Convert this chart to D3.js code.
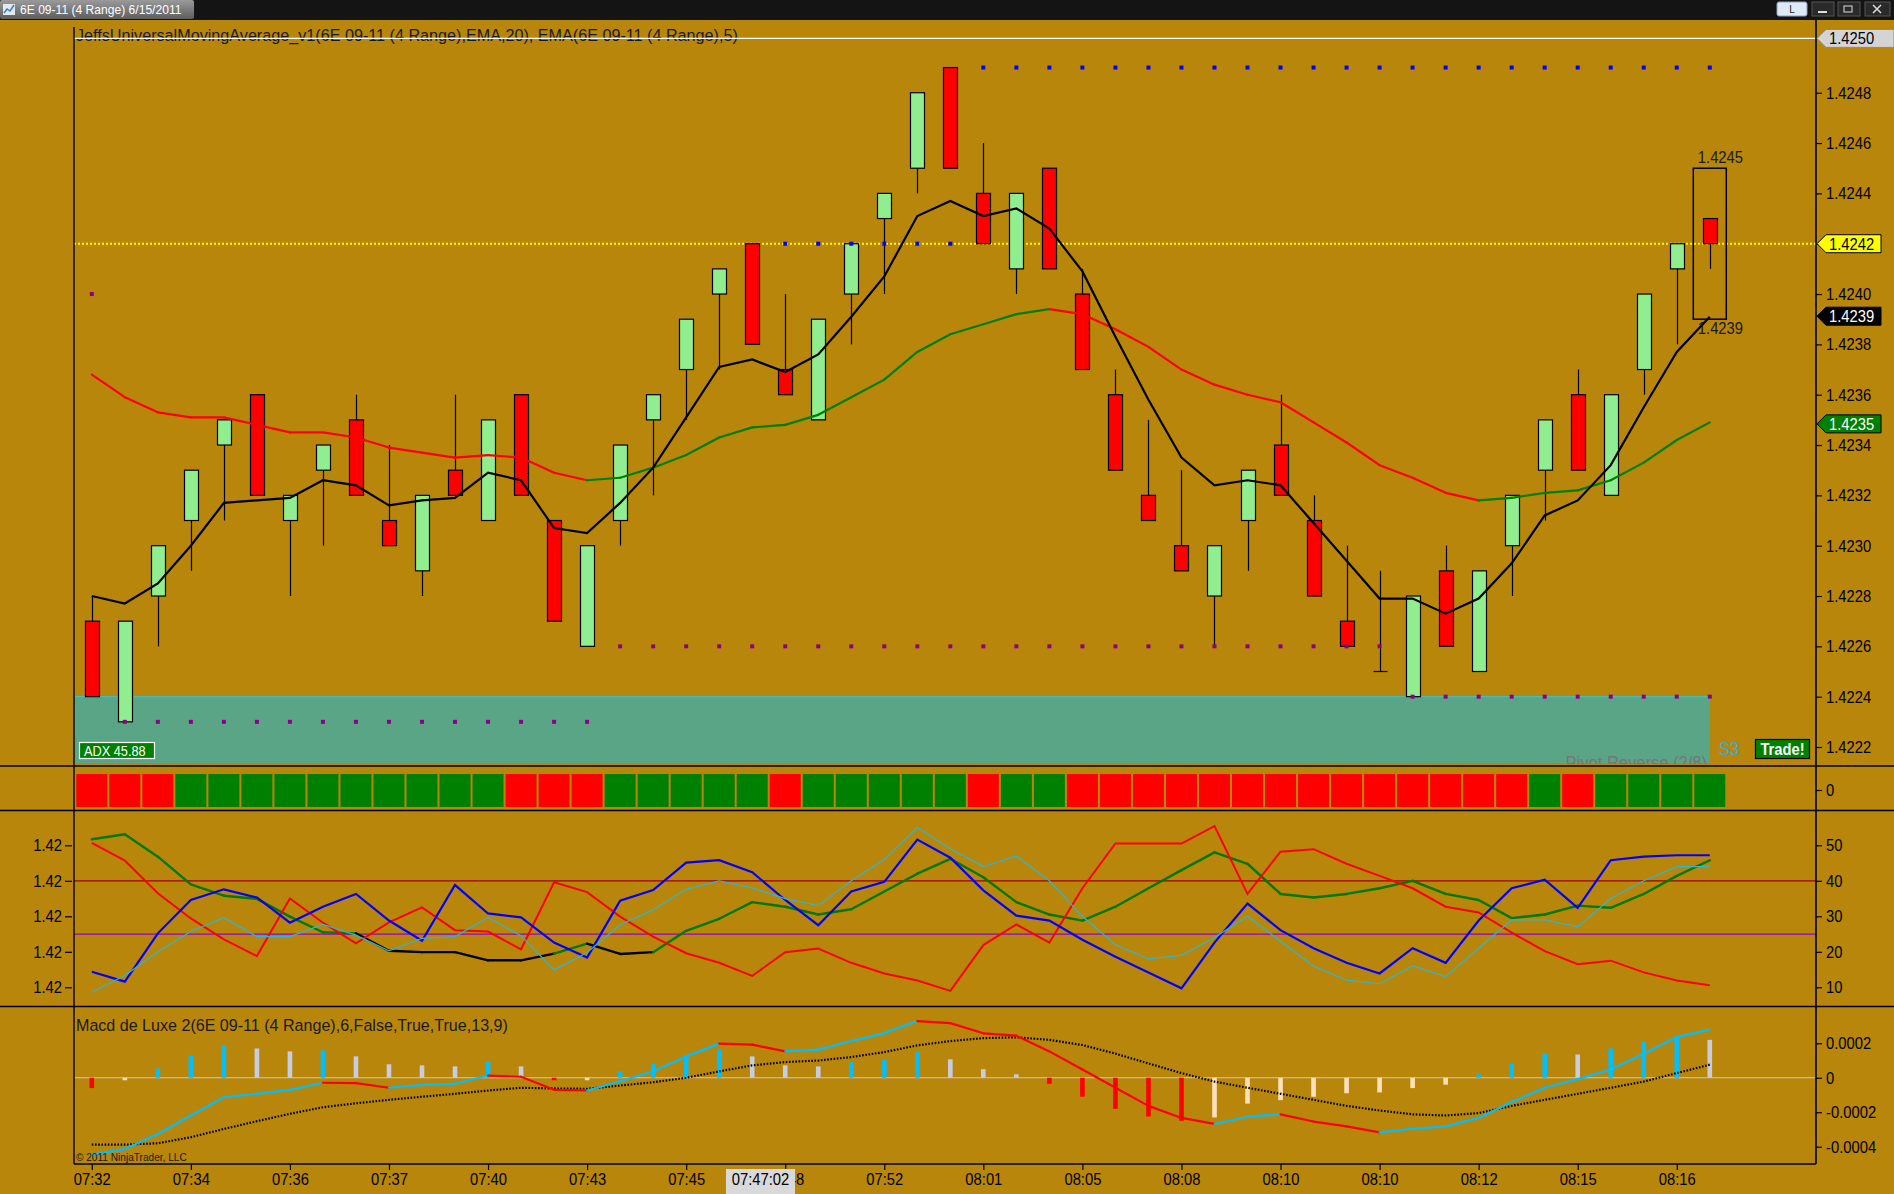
<!DOCTYPE html>
<html><head><meta charset="utf-8">
<script src="https://cdn.jsdelivr.net/npm/d3@7"></script>
<style>html,body{margin:0;padding:0;background:#B8860B;overflow:hidden}svg{display:block}text{font-family:"Liberation Sans",Arial,sans-serif}</style>
</head><body><svg id="c" width="1894" height="1194"></svg>
<script>
// ---------------- DATA ----------------
const timeLabels = ["07:32","07:34","07:36","07:37","07:40","07:43","07:45","07:48","07:52","08:01","08:05","08:08","08:10","08:10","08:12","08:15","08:16"];
const openP  = [1.4227,1.4223,1.4228,1.4231,1.4234,1.4236,1.4231,1.4233,1.4235,1.4231,1.4229,1.4233,1.4231,1.4236,1.4231,1.4226,1.4231,1.4235,1.4237,1.4240,1.4242,1.4237,1.4235,1.4240,1.4243,1.4245,1.4249,1.4244,1.4241,1.4245,1.4240,1.4236,1.4232,1.4230,1.4228,1.4231,1.4234,1.4231,1.4227,1.4225,1.4224,1.4229,1.4225,1.4230,1.4233,1.4236,1.4232,1.4237,1.4241,1.4243];
const highP  = [1.4228,1.4227,1.4230,1.4233,1.4235,1.4236,1.4232,1.4234,1.4236,1.4234,1.4232,1.4236,1.4235,1.4236,1.4231,1.4230,1.4234,1.4236,1.4239,1.4241,1.4242,1.4240,1.4239,1.4242,1.4244,1.4248,1.4249,1.4246,1.4244,1.4245,1.4241,1.4237,1.4235,1.4233,1.4230,1.4233,1.4236,1.4232,1.4230,1.4229,1.4228,1.4230,1.4229,1.4232,1.4235,1.4237,1.4236,1.4240,1.4242,1.4243];
const lowP   = [1.4224,1.4223,1.4226,1.4229,1.4231,1.4232,1.4228,1.4230,1.4232,1.4230,1.4228,1.4232,1.4231,1.4232,1.4227,1.4226,1.4230,1.4232,1.4235,1.4237,1.4238,1.4236,1.4235,1.4238,1.4240,1.4244,1.4245,1.4242,1.4240,1.4241,1.4237,1.4233,1.4231,1.4229,1.4226,1.4229,1.4232,1.4228,1.4226,1.4225,1.4224,1.4226,1.4225,1.4228,1.4231,1.4233,1.4232,1.4236,1.4238,1.4241];
const closeP = [1.4224,1.4227,1.4230,1.4233,1.4235,1.4232,1.4232,1.4234,1.4232,1.4230,1.4232,1.4232,1.4235,1.4232,1.4227,1.4230,1.4234,1.4236,1.4239,1.4241,1.4238,1.4236,1.4239,1.4242,1.4244,1.4248,1.4245,1.4242,1.4244,1.4241,1.4237,1.4233,1.4231,1.4229,1.4230,1.4233,1.4232,1.4228,1.4226,1.4225,1.4228,1.4226,1.4229,1.4232,1.4235,1.4233,1.4236,1.4240,1.4242,1.4242];
const ema5  = [1.42280,1.42277,1.42285,1.42300,1.42317,1.42318,1.42319,1.42326,1.42324,1.42316,1.42318,1.42319,1.42329,1.42326,1.42307,1.42305,1.42317,1.42331,1.42351,1.42371,1.42374,1.42369,1.42376,1.42391,1.42407,1.42431,1.42437,1.42431,1.42434,1.42426,1.42409,1.42383,1.42358,1.42335,1.42324,1.42326,1.42324,1.42309,1.42294,1.42279,1.42279,1.42273,1.42279,1.42293,1.42312,1.42318,1.42332,1.42355,1.42377,1.42391];
const ema20 = [1.42368,1.42359,1.42353,1.42351,1.42351,1.42348,1.42345,1.42345,1.42343,1.42339,1.42337,1.42335,1.42336,1.42335,1.42329,1.42326,1.42327,1.42331,1.42336,1.42343,1.42347,1.42348,1.42352,1.42359,1.42366,1.42377,1.42384,1.42388,1.42392,1.42394,1.42392,1.42386,1.42379,1.42370,1.42364,1.42360,1.42357,1.42349,1.42341,1.42332,1.42327,1.42321,1.42318,1.42319,1.42321,1.42322,1.42326,1.42333,1.42342,1.42349];
// 1 = up-trend (green) segment, 0 = down-trend (red) segment
const ema20Up = [0,0,0,0,0,0,0,0,0,0,0,0,0,0,0,1,1,1,1,1,1,1,1,1,1,1,1,1,1,0,0,0,0,0,0,0,0,0,0,0,0,0,1,1,1,1,1,1,1];
// support / resistance dot levels: [fromBar, toBar, price]
const purpleLevels = [[0,0,1.4240],[1,15,1.4223],[16,39,1.4226],[40,49,1.4224]];
const blueLevels   = [[21,26,1.4242],[27,49,1.4249]];
const pivotZone = 1.4224;
const yellowLine = 1.4242;
const topLine = 1.4250;
const rangeBox = [1.4245, 1.4239];
const priceTicks = [1.4222,1.4224,1.4226,1.4228,1.4230,1.4232,1.4234,1.4236,1.4238,1.4240,1.4242,1.4244,1.4246,1.4248];
const markerValues = [1.4250, 1.4242, 1.4239, 1.4235];
const markerLabels = ["1.4250","1.4242","1.4239","1.4235"];
// trend color strip (1 green, 0 red)
const stripUp = [0,0,0,1,1,1,1,1,1,1,1,1,1,0,0,0,1,1,1,1,1,0,1,1,1,1,1,0,1,1,0,0,0,0,0,0,0,0,0,0,0,0,0,0,1,0,1,1,1,1];
// oscillator panel
const adxLine = [51.7,53.1,46.8,39.0,35.8,34.9,29.9,25.5,25.2,20.3,19.9,19.9,17.6,17.6,19.5,22.3,19.4,19.9,25.9,29.3,34,32.7,30.5,32,37,42,46.2,41,34,30.5,28.8,32.7,37.9,43,48,44.8,36.3,35.3,36.3,37.9,40,36.3,34.6,29.5,30.5,33,32.4,36.3,41.4,45.8];
const adxStrong = [1,1,1,1,1,1,1,1,0,0,0,0,0,0,1,0,0,1,1,1,1,1,1,1,1,1,1,1,1,1,1,1,1,1,1,1,1,1,1,1,1,1,1,1,1,1,1,1,1];
const redLine  = [50.7,45.7,36.5,29.4,23.5,18.8,35.0,28.2,22.4,28.3,32.5,26.1,25.7,20.7,39.6,36.8,29.9,24.3,19.6,16.9,13.2,19.9,20.9,16.9,13.9,11.9,9.0,21.9,27.7,22.6,37.9,50.5,50.5,50.5,55.4,36.3,48.2,48.9,44.8,41.4,37.9,32.7,31.1,25.4,20.2,16.5,17.5,14.2,11.9,10.6];
const blueLine = [14.4,11.6,25.2,34.6,37.6,35.3,28.2,32.7,36.3,28.8,23.1,38.8,30.8,29.7,22.6,18.4,34.4,37.4,45.1,45.8,42.4,34.6,27.5,37,39.7,51.6,46.5,37.3,30.2,28.8,23.4,18.6,14.2,9.7,22.6,33.6,26.1,21,16.9,13.9,21,16.9,28.8,37.9,40.3,32.4,45.8,46.8,47.2,47.2];
const cyanLine = [8.6,13.3,20.0,25.7,29.6,24.3,24.3,27.7,24.7,20.3,23.8,24.3,29.7,24.5,14.9,19.8,27.6,31.8,37.6,40,38,35,33,40,46,55,49,44,47,40,30,22,18,19,24,30,23,16,12,11,16,13,21,29,29,27,35,40,44,44];
const oscLevels = [40, 25];
const oscTicks = [10,20,30,40,50];
// MACD panel (values in price units)
const macdLine = [-4.46,-4.13,-3.26,-2.19,-1.13,-0.93,-0.70,-0.29,-0.31,-0.58,-0.41,-0.35,0.13,0.06,-0.70,-0.74,-0.20,0.38,1.24,1.98,1.92,1.53,1.63,2.13,2.59,3.29,3.17,2.58,2.44,1.53,0.48,-0.58,-1.63,-2.33,-2.68,-2.26,-2.12,-2.54,-2.82,-3.17,-2.96,-2.82,-2.33,-1.41,-0.58,-0.08,0.48,1.39,2.37,2.79].map(v=>v*1e-4);
const signalLine = [-3.88,-3.88,-3.8,-3.45,-2.97,-2.52,-2.09,-1.71,-1.48,-1.28,-1.10,-0.93,-0.74,-0.58,-0.62,-0.64,-0.45,-0.26,0,0.37,0.72,0.91,1.0,1.2,1.49,1.88,2.13,2.3,2.35,2.2,1.9,1.4,0.83,0.27,-0.22,-0.58,-0.93,-1.28,-1.63,-1.9,-2.12,-2.19,-2.05,-1.63,-1.28,-0.93,-0.58,-0.22,0.27,0.76].map(v=>v*1e-4);
const histValues = [-0.6,-0.05,0.54,1.3,1.88,1.7,1.53,1.59,1.24,0.78,0.72,0.66,0.95,0.66,-0.1,-0.05,0.37,0.81,1.26,1.63,1.24,0.72,0.66,0.91,1.05,1.5,1.07,0.5,0.2,-0.35,-1.1,-1.8,-2.25,-2.5,-2.3,-1.5,-1.3,-1.1,-0.9,-0.85,-0.6,-0.4,0.2,0.8,1.4,1.35,1.7,2.1,2.35,2.2].map(v=>v*1e-4);
const macdTicks = [0.0002, 0, -0.0002, -0.0004];
const macdTickLabels = ["0.0002","0","-0.0002","-0.0004"];

// ---------------- LAYOUT ----------------
const W=1894, H=1194, L=74, R=1816;
const PT=27, PB=764, OT=810, OB=1006, MT=1006, MB=1164;
const n = closeP.length;
const svg = d3.select("#c");
const x  = d3.scaleLinear().domain([0, n-1]).range([91.8, 1709.8]);
const yP = d3.scaleLinear().domain([1.4222, 1.4250]).range([747.0, 42.4]);
const yO = d3.scaleLinear().domain([0, 60]).range([1022.8, 809.8]);
const yM = d3.scaleLinear().domain([-0.0004, 0.0002]).range([1146.7, 1043.3]);

const defs = svg.append("defs");
defs.append("clipPath").attr("id","cp").append("rect").attr("x",L).attr("y",PT).attr("width",R-L).attr("height",PB-PT);
defs.append("clipPath").attr("id","co").append("rect").attr("x",L).attr("y",OT+1).attr("width",R-L).attr("height",OB-OT-1);
defs.append("clipPath").attr("id","cm").append("rect").attr("x",L).attr("y",MT+1).attr("width",R-L).attr("height",MB-MT-1);
const tg = defs.append("linearGradient").attr("id","tab").attr("x1",0).attr("y1",0).attr("x2",0).attr("y2",1);
tg.append("stop").attr("offset","0").attr("stop-color","#9a9a9a");
tg.append("stop").attr("offset","1").attr("stop-color","#5e5e5e");

function txt(g, xx, yy, s, o={}) {
  const sx = o.sx ?? 0.87;
  const t = g.append("text").attr("transform",`translate(${xx},${yy}) scale(${sx},1)`)
    .attr("font-size", o.size||17).attr("fill", o.fill||"#000").attr("text-anchor", o.anchor||"start").text(s);
  if (o.weight) t.attr("font-weight", o.weight);
  return t;
}

svg.append("rect").attr("width",W).attr("height",H).attr("fill","#B8860B");

// ---- window title bar ----
svg.append("rect").attr("x",0).attr("y",0).attr("width",W).attr("height",20).attr("fill","#141414");
svg.append("rect").attr("x",0).attr("y",0).attr("width",194).attr("height",19).attr("fill","url(#tab)").attr("rx",2);
svg.append("rect").attr("x",3).attr("y",4).attr("width",12).attr("height",11).attr("fill","#e8e8e8");
svg.append("path").attr("d","M4,13 L7,9 L10,11 L14,5").attr("stroke","#2a7fd4").attr("stroke-width",1.5).attr("fill","none");
txt(svg, 20, 14, "6E 09-11 (4 Range)  6/15/2011", {size:13, fill:"#ffffff", sx:0.93});
// window buttons
svg.append("rect").attr("x",1777).attr("y",2).attr("width",30).attr("height",14).attr("rx",2).attr("fill","#dfe8f5").attr("stroke","#8aa0c0");
txt(svg, 1792, 13, "L", {size:10, anchor:"middle", sx:1, fill:"#222"});
svg.append("rect").attr("x",1812).attr("y",2).attr("width",22).attr("height",14).attr("fill","#2a2a2a").attr("stroke","#555");
svg.append("rect").attr("x",1818).attr("y",11).attr("width",9).attr("height",2).attr("fill","#ddd");
svg.append("rect").attr("x",1838).attr("y",2).attr("width",22).attr("height",14).attr("fill","#2a2a2a").attr("stroke","#555");
svg.append("rect").attr("x",1844).attr("y",6).attr("width",8).attr("height",6).attr("fill","none").attr("stroke","#ddd");
svg.append("rect").attr("x",1865).attr("y",2).attr("width",25).attr("height",14).attr("fill","#2a2a2a").attr("stroke","#555");
svg.append("path").attr("d","M1873,5 L1881,13 M1881,5 L1873,13").attr("stroke","#ddd").attr("stroke-width",1.5);

// ---------------- PRICE PANEL ----------------
const gp = svg.append("g").attr("clip-path","url(#cp)");
gp.append("rect").attr("x",L).attr("y",yP(pivotZone)).attr("width",x(n-1)-L).attr("height",763-yP(pivotZone)).attr("fill","#5BA587");
gp.append("line").attr("x1",L).attr("x2",x(n-1)).attr("y1",yP(pivotZone)).attr("y2",yP(pivotZone)).attr("stroke","#3cc6cf").attr("stroke-width",1);
txt(gp, 1707, 769, "Pivot  Reverse (2/8)", {size:19, anchor:"end", fill:"#767676"});
gp.append("line").attr("x1",L).attr("x2",R).attr("y1",yP(yellowLine)).attr("y2",yP(yellowLine)).attr("stroke","#ffff00").attr("stroke-width",2).attr("stroke-dasharray","2,2");
// title
txt(svg, 76, 41, "JeffsUniversalMovingAverage_v1(6E 09-11 (4 Range),EMA,20), EMA(6E 09-11 (4 Range),5)", {size:16.5, fill:"#1a1a1a", sx:0.98});
svg.append("line").attr("x1",L).attr("x2",R).attr("y1",yP(topLine)-4).attr("y2",yP(topLine)-4).attr("stroke","#ffffff").attr("stroke-width",1.2);

// candles
const cg = gp.append("g");
d3.range(n).forEach(i=>{
  const cx = Math.round(x(i))+0.5;
  cg.append("line").attr("x1",cx).attr("x2",cx).attr("y1",yP(highP[i])).attr("y2",yP(lowP[i])).attr("stroke","#000").attr("stroke-width",1.2);
  const o=openP[i], c=closeP[i];
  if (Math.abs(o-c) < 1e-9) {
    cg.append("line").attr("x1",cx-7).attr("x2",cx+7).attr("y1",yP(o)).attr("y2",yP(o)).attr("stroke","#000").attr("stroke-width",1.2);
  } else {
    const top=yP(Math.max(o,c)), bot=yP(Math.min(o,c));
    cg.append("rect").attr("x",cx-7).attr("y",top).attr("width",14).attr("height",bot-top)
      .attr("fill", c>o ? "#90EE90" : "#FF0000").attr("stroke","#000").attr("stroke-width",1.2);
  }
});
// EMA20 two-colour
d3.range(n-1).forEach(i=>{
  gp.append("line").attr("x1",x(i)).attr("x2",x(i+1)).attr("y1",yP(ema20[i])).attr("y2",yP(ema20[i+1]))
    .attr("stroke", ema20Up[i] ? "#008000" : "#FF0000").attr("stroke-width",2.2).attr("stroke-linecap","round");
});
// EMA5
gp.append("path").datum(ema5).attr("d", d3.line().x((d,i)=>x(i)).y(d=>yP(d))).attr("fill","none").attr("stroke","#000").attr("stroke-width",2.2);
// dots
purpleLevels.forEach(([a,b,v])=>{ d3.range(a,b+1).forEach(i=>{
  gp.append("rect").attr("x",x(i)-2).attr("y",yP(v)-2).attr("width",4).attr("height",4).attr("fill","#8B008B"); });});
blueLevels.forEach(([a,b,v])=>{ d3.range(a,b+1).forEach(i=>{
  gp.append("rect").attr("x",x(i)-2).attr("y",yP(v)-2).attr("width",4).attr("height",4).attr("fill","#0000FF"); });});
// range box on last bar
const lx = x(n-1);
gp.append("rect").attr("x",lx-16.5).attr("y",yP(rangeBox[0])).attr("width",33).attr("height",yP(rangeBox[1])-yP(rangeBox[0]))
  .attr("fill","none").attr("stroke","#000").attr("stroke-width",1.5);
txt(gp, lx-12, yP(rangeBox[0])-5, d3.format(".4f")(rangeBox[0]), {size:17, fill:"#1a1a1a"});
txt(gp, lx-12, yP(rangeBox[1])+15, d3.format(".4f")(rangeBox[1]), {size:17, fill:"#1a1a1a"});
// ADX / S3 / Trade labels
svg.append("rect").attr("x",79.5).attr("y",742.5).attr("width",75).attr("height",16).attr("fill","#008000").attr("stroke","#fff").attr("stroke-width",1.2);
txt(svg, 84, 756, "ADX 45.88", {size:15, fill:"#fff", sx:0.85});
txt(svg, 1719, 755, "S3", {size:19, fill:"#3aa8e0", sx:0.87});
svg.append("rect").attr("x",1755.5).attr("y",739.5).attr("width",54).attr("height",19).attr("fill","#008000").attr("stroke","#000").attr("stroke-width",1.2);
txt(svg, 1782.5, 755, "Trade!", {size:16, fill:"#fff", anchor:"middle", weight:"bold", sx:0.92});

// ---------------- TREND STRIP ----------------
d3.range(n).forEach(i=>{
  svg.append("rect").attr("x",x(i)-15.5).attr("y",774).attr("width",31).attr("height",33)
    .attr("fill", stripUp[i] ? "#008000" : "#FF0000");
});

// ---------------- OSCILLATOR PANEL ----------------
const go = svg.append("g").attr("clip-path","url(#co)");
go.append("line").attr("x1",L).attr("x2",R).attr("y1",yO(oscLevels[0])).attr("y2",yO(oscLevels[0])).attr("stroke","#9b0000").attr("stroke-width",1.3);
go.append("line").attr("x1",L).attr("x2",R).attr("y1",yO(oscLevels[1])).attr("y2",yO(oscLevels[1])).attr("stroke","#9900cc").attr("stroke-width",1.3);
const lineO = d3.line().x((d,i)=>x(i)).y(d=>yO(d));
d3.range(n-1).forEach(i=>{
  go.append("line").attr("x1",x(i)).attr("x2",x(i+1)).attr("y1",yO(adxLine[i])).attr("y2",yO(adxLine[i+1]))
    .attr("stroke", adxStrong[i] ? "#007a00" : "#000").attr("stroke-width",2.4).attr("stroke-linecap","round");
});
go.append("path").datum(redLine).attr("d",lineO).attr("fill","none").attr("stroke","#FF0000").attr("stroke-width",2);
go.append("path").datum(blueLine).attr("d",lineO).attr("fill","none").attr("stroke","#0000FF").attr("stroke-width",2.2);
go.append("path").datum(cyanLine).attr("d",lineO).attr("fill","none").attr("stroke","#2bb7d6").attr("stroke-width",1.2);

// ---------------- MACD PANEL ----------------
const gm = svg.append("g").attr("clip-path","url(#cm)");
gm.append("line").attr("x1",L).attr("x2",R).attr("y1",yM(0)).attr("y2",yM(0)).attr("stroke","#c8c8c8").attr("stroke-width",1.2);
histValues.forEach((v,i)=>{
  const prev = i>0 ? histValues[i-1] : v+1;
  let col;
  if (v>=0) col = v>prev ? "#00BFFF" : "#C8CCDF";
  else col = v<prev ? "#FF0000" : "#FFE0BD";
  const y0=yM(0), y1=yM(v);
  let top=Math.min(y0,y1), h=Math.max(Math.abs(y1-y0),2.5);
  gm.append("rect").attr("x",x(i)-2.3).attr("y",top).attr("width",4.6).attr("height",h).attr("fill",col);
});
gm.append("path").datum(signalLine).attr("d", d3.line().x((d,i)=>x(i)).y(d=>yM(d))).attr("fill","none")
  .attr("stroke","#000").attr("stroke-width",2.2).attr("stroke-dasharray","1.6,1.6");
d3.range(n-1).forEach(i=>{
  gm.append("line").attr("x1",x(i)).attr("x2",x(i+1)).attr("y1",yM(macdLine[i])).attr("y2",yM(macdLine[i+1]))
    .attr("stroke", macdLine[i+1] < macdLine[i] ? "#FF0000" : "#00BFFF").attr("stroke-width",2.2).attr("stroke-linecap","round");
});
txt(svg, 76, 1031, "Macd de Luxe 2(6E 09-11 (4 Range),6,False,True,True,13,9)", {size:16.5, fill:"#1a1a1a", sx:0.975});
txt(svg, 76, 1161, "© 2011 NinjaTrader, LLC", {size:11, fill:"#1a1a1a", sx:0.92});

// ---------------- FRAME LINES ----------------
[[0,W,766],[0,W,810.5],[0,W,1006.5],[L,R,1164]].forEach(([a,b,y])=>{
  svg.append("line").attr("x1",a).attr("x2",b).attr("y1",y).attr("y2",y).attr("stroke","#000").attr("stroke-width",1.6);
});
svg.append("line").attr("x1",L).attr("x2",L).attr("y1",PT).attr("y2",1164).attr("stroke","#000").attr("stroke-width",1.4);
svg.append("line").attr("x1",R).attr("x2",R).attr("y1",20).attr("y2",1164).attr("stroke","#000").attr("stroke-width",1.6);

// ---------------- AXES ----------------
function styleAxis(g, sx, dx) {
  g.select(".domain").remove();
  g.selectAll(".tick line").attr("stroke","#000").attr("stroke-width",1.2);
  g.selectAll(".tick text").attr("font-size",17).attr("fill","#000").attr("font-family",'"Liberation Sans",Arial,sans-serif')
    .attr("x", dx/sx).attr("transform",`scale(${sx},1)`);
}
const axP = svg.append("g").attr("transform",`translate(${R},0)`)
  .call(d3.axisRight(yP).tickValues(priceTicks).tickFormat(d3.format(".4f")).tickSize(6));
styleAxis(axP, 0.87, 10);
const axC = svg.append("g").attr("transform",`translate(${R},0)`)
  .call(d3.axisRight(d3.scaleLinear().domain([0,1]).range([790,790])).tickValues([0]).tickFormat(d=>"0").tickSize(6));
styleAxis(axC, 0.87, 10);
const axO = svg.append("g").attr("transform",`translate(${R},0)`)
  .call(d3.axisRight(yO).tickValues(oscTicks).tickSize(6));
styleAxis(axO, 0.87, 10);
const axOL = svg.append("g").attr("transform",`translate(72,0)`)
  .call(d3.axisLeft(yO).tickValues(oscTicks).tickFormat(()=>"1.42").tickSize(7));
styleAxis(axOL, 0.87, -10);
const axM = svg.append("g").attr("transform",`translate(${R},0)`)
  .call(d3.axisRight(yM).tickValues(macdTicks).tickFormat((d,i)=>macdTickLabels[i]).tickSize(6));
styleAxis(axM, 0.87, 10);
const axX = svg.append("g").attr("transform",`translate(0,${MB})`)
  .call(d3.axisBottom(x).tickValues(d3.range(0,n,3)).tickFormat((d,i)=>timeLabels[i]).tickSize(6));
axX.select(".domain").remove();
axX.selectAll(".tick line").attr("stroke","#000").attr("stroke-width",1.2);
axX.selectAll(".tick text").attr("font-size",17).attr("fill","#000").attr("y",0).attr("dy",0)
  .attr("transform","translate(0,21) scale(0.87,1)");

// crosshair time box
svg.append("rect").attr("x",726).attr("y",1169).attr("width",69).attr("height",25).attr("fill","#d9d9d9");
txt(svg, 760.5, 1185, "07:47:02", {size:17, anchor:"middle", fill:"#000"});

// right-axis price markers
markerValues.forEach((v,i)=>{
  const styles = [{f:"#d4d4d4",t:"#000",x2:1894,dy:-4},{f:"#ffff00",t:"#000",x2:1881,dy:0},{f:"#000000",t:"#fff",x2:1881,dy:-3},{f:"#008000",t:"#fff",x2:1881,dy:4}][i];
  const yy = yP(v)+styles.dy;
  svg.append("path").attr("d",`M${R+1},${yy} L${R+10},${yy-9} L${styles.x2},${yy-9} L${styles.x2},${yy+9} L${R+10},${yy+9} Z`)
    .attr("fill",styles.f).attr("stroke", i===0 ? "#888" : "#000").attr("stroke-width",1);
  txt(svg, R+13, yy+6, markerLabels[i], {size:17, fill:styles.t});
});
</script></body></html>
